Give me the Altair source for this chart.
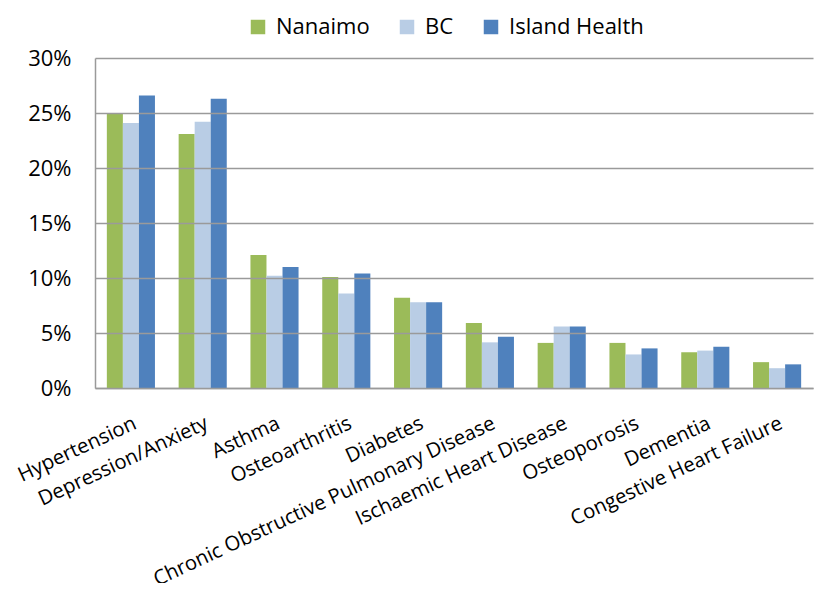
import altair as alt
import pandas as pd

categories = ["Hypertension", "Depression/Anxiety", "Asthma", "Osteoarthritis", "Diabetes",
              "Chronic Obstructive Pulmonary Disease", "Ischaemic Heart Disease", "Osteoporosis",
              "Dementia", "Congestive Heart Failure"]
series = ["Nanaimo", "BC", "Island Health"]
nanaimo = [24.9, 23.1, 12.1, 10.1, 8.2, 5.9, 4.1, 4.1, 3.25, 2.35]
bc = [24.1, 24.2, 10.2, 8.6, 7.8, 4.15, 5.6, 3.05, 3.4, 1.8]
island = [26.6, 26.3, 11.0, 10.4, 7.8, 4.65, 5.6, 3.6, 3.75, 2.15]
colors = ["#9BBB59", "#B9CDE5", "#4F81BD"]
y_ticks = [0, 0.05, 0.10, 0.15, 0.20, 0.25, 0.30]

rows = []
for s, vals in zip(series, [nanaimo, bc, island]):
    for c, v in zip(categories, vals):
        rows.append({"category": c, "series": s, "value": v / 100})
df = pd.DataFrame(rows)

FONT = "Open Sans"
GRAY = "#9a9a9a"

chart = alt.Chart(df).mark_bar().encode(
    x=alt.X("category:N", sort=categories, title=None,
            scale=alt.Scale(paddingInner=0.33, paddingOuter=0.165),
            axis=alt.Axis(labelAngle=335, labelAlign="right", labelBaseline="top",
                          labelFontSize=20.3, labelFont=FONT, labelColor="black",
                          labelPadding=25, ticks=False, grid=False, domainColor=GRAY,
                          domainWidth=1.5, labelLimit=0, labelOverlap=False)),
    xOffset=alt.XOffset("series:N", sort=series),
    y=alt.Y("value:Q", title=None,
            scale=alt.Scale(domain=[0, 0.3], nice=False),
            axis=alt.Axis(values=y_ticks, format=".0%", labelFontSize=22, labelFont=FONT,
                          labelColor="black", labelPadding=24, ticks=False,
                          domainColor=GRAY, domainWidth=1.5,
                          grid=True, gridColor=GRAY, gridWidth=1.5, zindex=1)),
    color=alt.Color("series:N", sort=series,
                    scale=alt.Scale(domain=series, range=colors),
                    legend=alt.Legend(title=None, orient="none", direction="horizontal",
                                      legendX=152, legendY=-42, symbolType="square",
                                      symbolSize=210, symbolStrokeWidth=0,
                                      labelFontSize=22, labelFont=FONT, labelColor="black",
                                      labelOffset=7, columnPadding=26)),
).properties(
    width=718, height=330,
    autosize=alt.AutoSizeParams(type="none"),
    padding={"left": 87, "top": 50, "right": 1, "bottom": 195},
).configure_view(strokeWidth=0, strokeOpacity=0, stroke="transparent")

chart.save("out.html", embed_options={"renderer": "svg", "actions": False})
